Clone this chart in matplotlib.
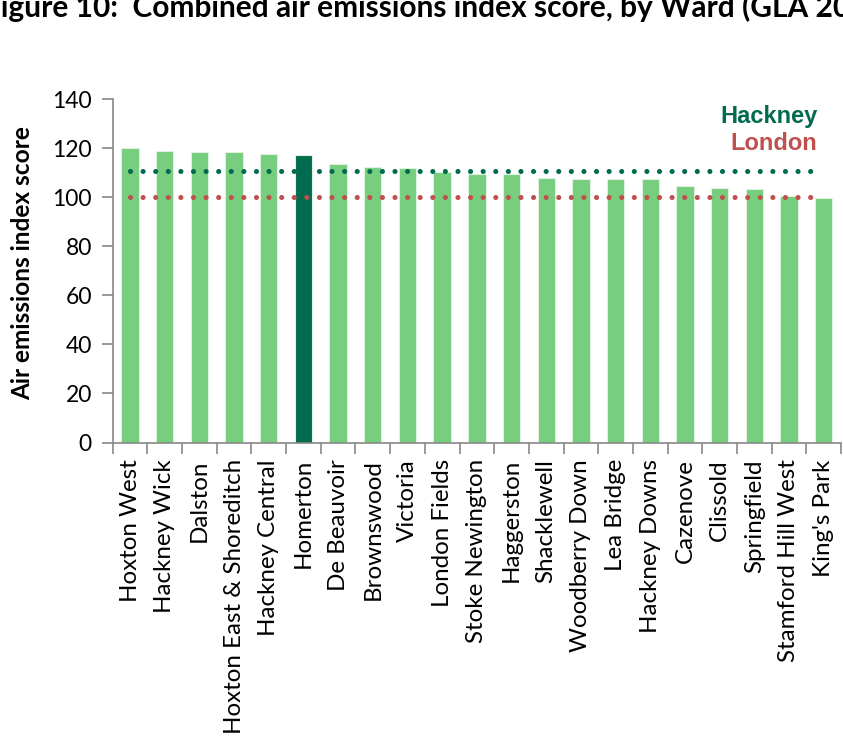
import matplotlib
matplotlib.use("Agg")
import matplotlib.pyplot as plt
import numpy as np

wards = ["Hoxton West", "Hackney Wick", "Dalston", "Hoxton East & Shoreditch",
         "Hackney Central", "Homerton", "De Beauvoir", "Brownswood", "Victoria",
         "London Fields", "Stoke Newington", "Haggerston", "Shacklewell",
         "Woodberry Down", "Lea Bridge", "Hackney Downs", "Cazenove", "Clissold",
         "Springfield", "Stamford Hill West", "King's Park"]
scores = [120.2, 119.0, 118.5, 118.5, 117.5, 117.1, 113.8, 112.2, 111.8, 110.2,
          109.7, 109.7, 107.9, 107.5, 107.4, 107.3, 104.7, 104.0, 103.6, 100.5, 99.7]
highlight = "Homerton"
hackney_avg = 110.6
london_avg = 100.0
yticks = [0, 20, 40, 60, 80, 100, 120, 140]

light_green = "#76CE7E"
dark_green = "#006B4F"
red = "#C0504D"
grey = "#878787"

W, H = 843, 737
fig = plt.figure(figsize=(W / 100, H / 100), dpi=100)
ax = fig.add_axes([112.7 / W, 1 - 442.5 / H, (841 - 112.7) / W, (442.5 - 99.3) / H])

x = np.arange(len(wards))
colors = [dark_green if w == highlight else light_green for w in wards]
ax.bar(x, scores, width=0.5, color=colors, edgecolor="#dff2e0", linewidth=0.8, zorder=2)

line_end = len(wards) - 1.28
for val, col in [(hackney_avg, dark_green), (london_avg, red)]:
    ax.plot([0, line_end], [val, val], color=col, lw=3.7,
            linestyle=(0, (0.001, 2.45)), dash_capstyle="round", zorder=3)

ax.set_xlim(-0.5, len(wards) - 0.5)
ax.set_ylim(0, 140)
ax.set_yticks(yticks)
ax.set_xticks(x)
ax.set_xticklabels(wards, rotation=90, fontfamily="Lato", fontsize=17.4)
ax.set_xticks(np.arange(-0.5, len(wards), 1), minor=True)
ax.tick_params(axis="x", which="major", length=0, pad=12)
ax.tick_params(axis="x", which="minor", length=8, width=1.2, color=grey, direction="out")
ax.tick_params(axis="y", length=8, width=1.2, color=grey, pad=7, labelsize=16.5)
for lab in ax.get_yticklabels():
    lab.set_fontfamily("Lato")

for s in ["top", "right"]:
    ax.spines[s].set_visible(False)
for s in ["left", "bottom"]:
    ax.spines[s].set_color(grey)
    ax.spines[s].set_linewidth(1.2)

fig.text(23 / W, 1 - 263 / H, "Air emissions index score", fontfamily="Lato",
         fontweight="bold", fontsize=17.6, rotation=90, ha="center", va="center")

fig.text(818 / W, 1 - 123.3 / H, "Hackney", color=dark_green, fontfamily="Liberation Sans",
         fontweight="bold", fontsize=17, ha="right", va="baseline")
fig.text(817 / W, 1 - 150 / H, "London", color=red, fontfamily="Liberation Sans",
         fontweight="bold", fontsize=17, ha="right", va="baseline")

fig.text(-16 / W, 1 - 17 / H, "Figure 10:  Combined air emissions index score, by Ward (GLA 2010)",
         fontfamily="Lato", fontweight="bold", fontsize=21.5, ha="left", va="baseline")

fig.savefig("out.png", dpi=100)
